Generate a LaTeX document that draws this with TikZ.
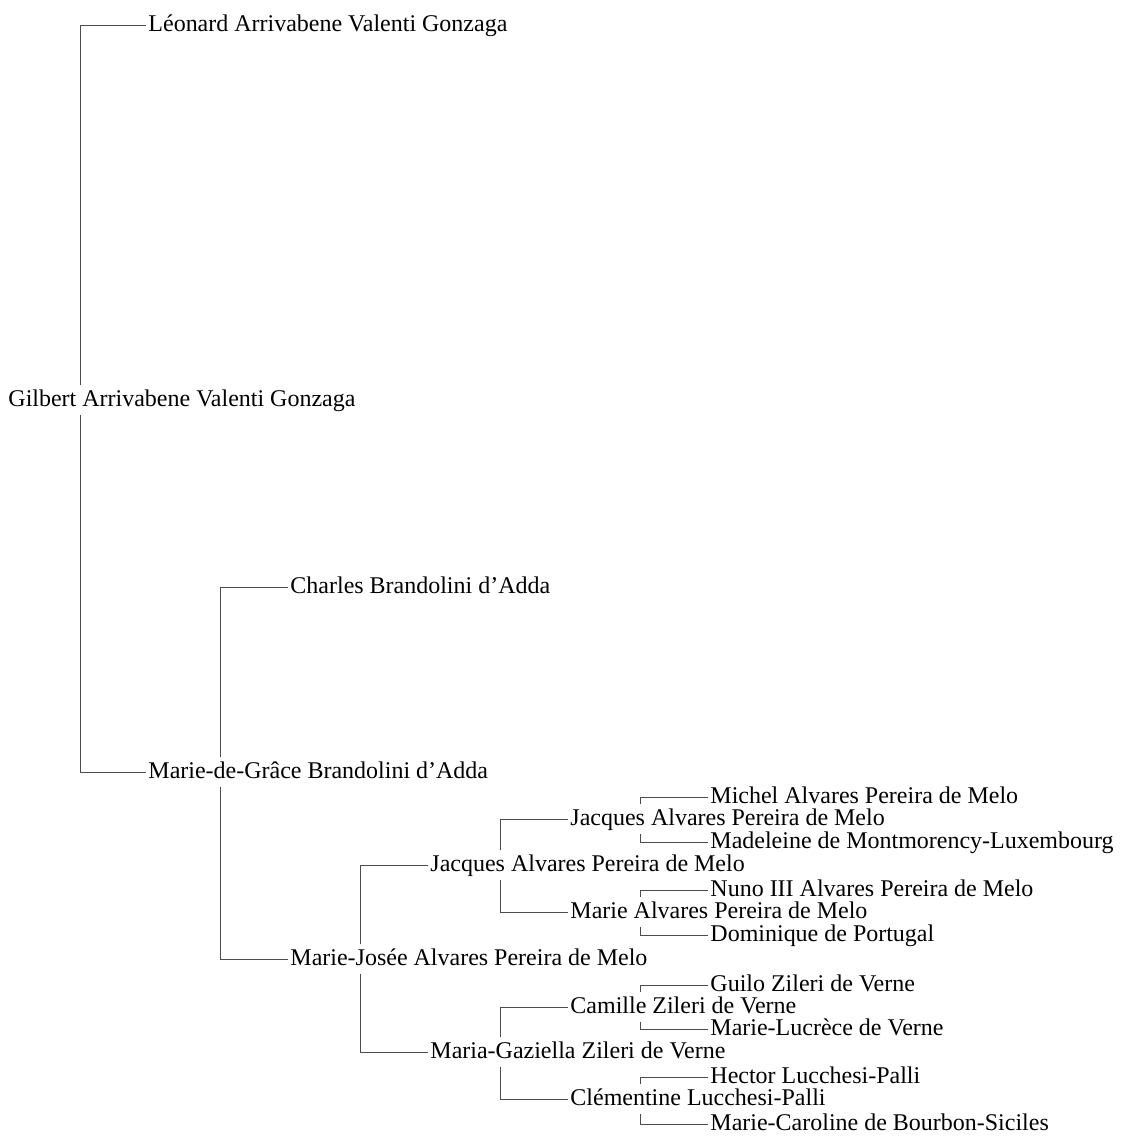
\documentclass[tikz,border=0pt]{standalone}
\usepackage{fontspec}
\setmainfont{Liberation Serif}
\usetikzlibrary{calc}
\tikzset{person/.style={anchor=west,inner sep=1.2pt,text height=10.5pt,text depth=3.5pt,font=\fontsize{13.65}{16}\selectfont}}
\tikzset{link/.style={draw=black!70,line width=0.55pt}}

\begin{document}
\begin{tikzpicture}[x=0.02cm,y=-0.02cm]
\useasboundingbox (0,0) rectangle (1125,1136);
% columns of the vertical lines
\coordinate (c1) at (80,0);
\coordinate (c2) at (220,0);
\coordinate (c3) at (360,0);
\coordinate (c4) at (500,0);
\coordinate (c5) at (640,0);
% people
\node[person] (a1) at (6,400) {Gilbert Arrivabene Valenti Gonzaga};
\node[person] (a2) at (146,25) {Léonard Arrivabene Valenti Gonzaga};
\node[person] (a3) at (146,772) {Marie-de-Grâce Brandolini d’Adda};
\node[person] (a6) at (288,587) {Charles Brandolini d’Adda};
\node[person] (a7) at (288,959) {Marie-Josée Alvares Pereira de Melo};
\node[person] (a14) at (428,865) {Jacques Alvares Pereira de Melo};
\node[person] (a15) at (428,1052) {Maria-Gaziella Zileri de Verne};
\node[person] (a28) at (568,819) {Jacques Alvares Pereira de Melo};
\node[person] (a29) at (568,912) {Marie Alvares Pereira de Melo};
\node[person] (a30) at (568,1007) {Camille Zileri de Verne};
\node[person] (a31) at (568,1099) {Clémentine Lucchesi-Palli};
\node[person] (a56) at (708,797) {Michel Alvares Pereira de Melo};
\node[person] (a57) at (708,842) {Madeleine de Montmorency-Luxembourg};
\node[person] (a58) at (708,890) {Nuno III Alvares Pereira de Melo};
\node[person] (a59) at (708,935) {Dominique de Portugal};
\node[person] (a60) at (708,985) {Guilo Zileri de Verne};
\node[person] (a61) at (708,1029) {Marie-Lucrèce de Verne};
\node[person] (a62) at (708,1077) {Hector Lucchesi-Palli};
\node[person] (a63) at (708,1124) {Marie-Caroline de Bourbon-Siciles};
% links
\draw[link] (a1.north -| c1) |- (a2.west);
\draw[link] (a1.south -| c1) |- (a3.west);
\draw[link] (a3.north -| c2) |- (a6.west);
\draw[link] (a3.south -| c2) |- (a7.west);
\draw[link] (a7.north -| c3) |- (a14.west);
\draw[link] (a7.south -| c3) |- (a15.west);
\draw[link] (a14.north -| c4) |- (a28.west);
\draw[link] (a14.south -| c4) |- (a29.west);
\draw[link] (a15.north -| c4) |- (a30.west);
\draw[link] (a15.south -| c4) |- (a31.west);
\draw[link] (a28.north -| c5) |- (a56.west);
\draw[link] (a28.south -| c5) |- (a57.west);
\draw[link] (a29.north -| c5) |- (a58.west);
\draw[link] (a29.south -| c5) |- (a59.west);
\draw[link] (a30.north -| c5) |- (a60.west);
\draw[link] (a30.south -| c5) |- (a61.west);
\draw[link] (a31.north -| c5) |- (a62.west);
\draw[link] (a31.south -| c5) |- (a63.west);
\end{tikzpicture}
\end{document}
